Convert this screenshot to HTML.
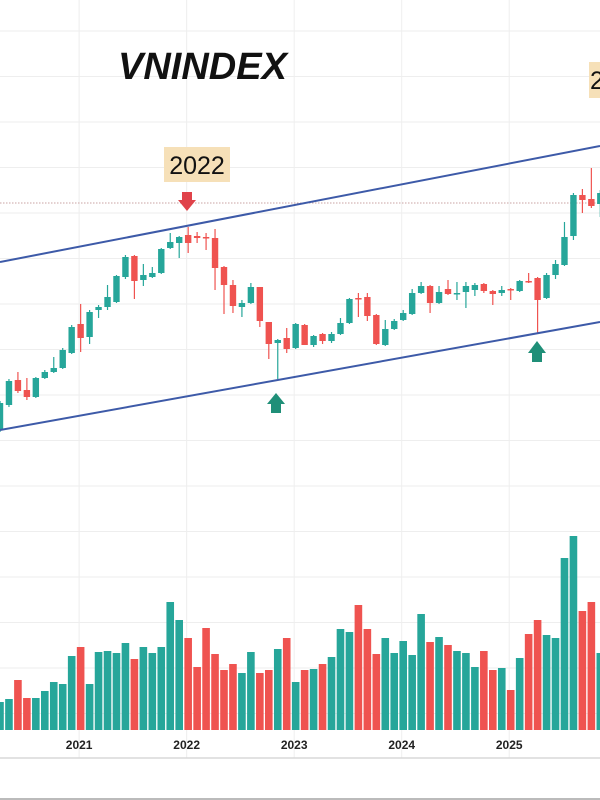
<!DOCTYPE html>
<html><head><meta charset="utf-8"><style>
html,body{margin:0;padding:0;background:#fff;}
svg{display:block;}
</style></head><body>
<svg id="chart" width="600" height="800" viewBox="0 0 600 800" xmlns="http://www.w3.org/2000/svg">
<rect x="0" y="0" width="600" height="800" fill="#fff"/>
<g id="grid"></g>
<line x1="0" y1="203" x2="600" y2="203" stroke="#c9a3a3" stroke-width="1" stroke-dasharray="1.5,1.5"/>
<g id="volume"></g>
<g id="candles"></g>
<line x1="0" y1="262" x2="600" y2="146" stroke="#3d5aa8" stroke-width="2"/>
<line x1="0" y1="430" x2="600" y2="322" stroke="#3d5aa8" stroke-width="2"/>
<text x="118" y="79" font-family="'Liberation Sans',sans-serif" font-weight="bold" font-style="italic" font-size="38" fill="#111">VNINDEX</text>
<rect x="164" y="147" width="66" height="35" fill="#f6e0b8"/>
<text x="197" y="174" text-anchor="middle" font-family="'Liberation Sans',sans-serif" font-size="25" fill="#111">2022</text>
<rect x="589" y="62" width="20" height="36" fill="#f6e0b8"/>
<text x="590" y="89" font-family="'Liberation Sans',sans-serif" font-size="25" fill="#111">2</text>
<path d="M182,192 L192,192 L192,200 L196,200 L187,211 L178,200 L182,200 Z" fill="#e0424a"/>
<path d="M271,413 L281,413 L281,404 L285,404 L276,393 L267,404 L271,404 Z" fill="#1f8f78"/>
<path d="M532,362 L542,362 L542,353 L546,353 L537,341 L528,353 L532,353 Z" fill="#1f8f78"/>
<g id="xaxis"></g>
<line x1="0" y1="758" x2="600" y2="758" stroke="#d8d8d8" stroke-width="1.5"/>
<line x1="0" y1="799" x2="600" y2="799" stroke="#bbb" stroke-width="2"/>
</svg>
<script>
const opens  = [1074,1124,1174,1154,1140,1178,1190,1198,1228,1286,1260,1314,1320,1330,1380,1422,1374,1380,1388,1438,1448,1464,1462,1460,1458,1400,1364,1320,1328,1360,1290,1248,1258,1238,1284,1244,1266,1252,1266,1288,1338,1340,1304,1244,1276,1294,1306,1348,1362,1328,1356,1346,1350,1354,1366,1352,1348,1356,1352,1372,1378,1338,1384,1404,1462,1544,1536,1526];
const highs  = [1132,1176,1190,1178,1180,1194,1220,1238,1284,1326,1314,1324,1364,1384,1424,1424,1406,1400,1438,1468,1462,1480,1470,1468,1476,1402,1374,1334,1368,1360,1290,1256,1278,1288,1286,1264,1268,1270,1298,1338,1348,1348,1306,1294,1296,1314,1356,1370,1364,1362,1374,1370,1370,1368,1368,1354,1362,1358,1374,1388,1380,1388,1414,1490,1548,1556,1598,1554];
const lows   = [1070,1120,1148,1134,1138,1176,1188,1196,1226,1230,1246,1298,1314,1328,1376,1336,1362,1378,1386,1436,1418,1428,1448,1434,1354,1306,1308,1300,1326,1280,1216,1176,1228,1236,1244,1240,1246,1248,1264,1286,1300,1292,1244,1242,1274,1292,1304,1346,1308,1326,1344,1334,1318,1342,1348,1324,1342,1334,1350,1368,1268,1336,1376,1402,1454,1508,1518,1500];
const closes = [1128,1172,1152,1140,1178,1190,1198,1234,1280,1258,1310,1320,1340,1382,1420,1372,1384,1388,1436,1450,1460,1448,1458,1458,1398,1364,1322,1328,1360,1292,1246,1254,1236,1286,1244,1262,1252,1266,1288,1336,1336,1302,1246,1276,1292,1308,1348,1362,1328,1350,1346,1348,1362,1364,1352,1346,1354,1354,1372,1370,1334,1384,1406,1460,1544,1534,1522,1548];
const volumes = [28,31,50,32,32,39,48,46,74,83,46,78,79,77,87,71,83,77,83,128,110,92,63,102,76,60,66,57,78,57,60,81,92,48,60,61,66,73,101,98,125,101,76,92,77,89,75,116,88,93,85,79,77,63,79,60,62,40,72,96,110,95,92,172,194,119,128,77];
const volColors = ['G','G','R','R','G','G','G','G','G','R','G','G','G','G','G','R','G','G','G','G','G','R','R','R','R','R','R','G','G','R','R','G','R','G','R','G','R','G','G','G','R','R','R','G','G','G','G','G','R','G','R','G','G','G','R','R','G','R','G','R','R','G','G','G','G','R','R','G'];
const yearLabels = ['2021','2022','2023','2024','2025'];
const yearIndex = [9,21,33,45,57];

const NS='http://www.w3.org/2000/svg';
const STEP=8.96;
function xPos(i){return i*STEP;}
function yPrice(p){return (1934-p)/2;}
function yVol(v){return 730-v;}
const GREEN='#26a69a', RED='#ef5350';
function mk(tag,attrs,parent){const e=document.createElementNS(NS,tag);for(const k in attrs)e.setAttribute(k,attrs[k]);parent.appendChild(e);return e;}

const grid=document.getElementById('grid');
for(let y=31;y<=715;y+=45.5){
  const l=mk('line',{x1:0,x2:600,y1:y,y2:y,stroke:'#eeeeee','stroke-width':1},grid);
  
  
}
const xa=document.getElementById('xaxis');
yearLabels.forEach((lab,k)=>{
  const x=xPos(yearIndex[k])-1.5;
  const l=mk('line',{x1:x,x2:x,y1:0,y2:758,stroke:'#eeeeee','stroke-width':1},grid);
  
  
  const t=mk('text',{x:x,y:749,'text-anchor':'middle','font-family':"'Liberation Sans',sans-serif",'font-size':12,'font-weight':'bold',fill:'#222'},xa);
  t.textContent=lab;
  
  
});

const vg=document.getElementById('volume');
volumes.forEach((v,i)=>{
  const x=xPos(i);
  const r=mk('rect',{x:x-3.8,y:yVol(v),width:7.6,height:730-yVol(v),fill:volColors[i]==='G'?GREEN:RED},vg);
  
  
});

const cg=document.getElementById('candles');
opens.forEach((o,i)=>{
  const c=closes[i], x=xPos(i);
  const col=c>=o?GREEN:RED;
  const g=mk('g',{},cg);
  
  
  mk('line',{x1:x,x2:x,y1:yPrice(highs[i]),y2:yPrice(lows[i]),stroke:col,'stroke-width':1.2},g);
  const top=yPrice(Math.max(o,c)), bot=yPrice(Math.min(o,c));
  mk('rect',{x:x-3.2,y:top,width:6.4,height:Math.max(1.5,bot-top),fill:col},g);
});
</script>
</body></html>
